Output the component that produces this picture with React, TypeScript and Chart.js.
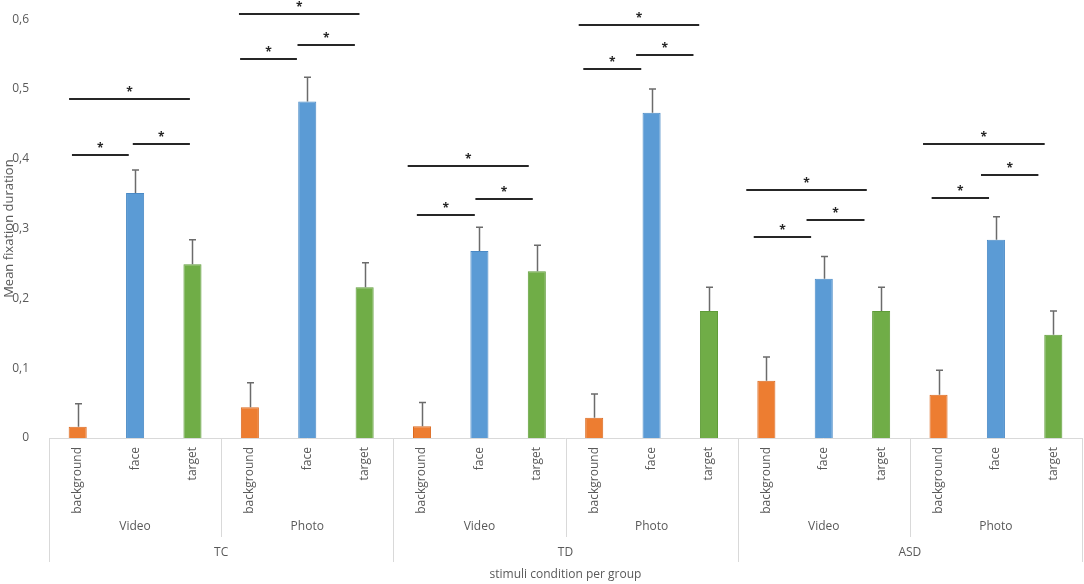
import React, { useEffect, useRef } from "react";
import { Chart, registerables } from "chart.js";

Chart.register(...registerables);

const groups = ["TC", "TD", "ASD"];
const conditions = ["Video", "Photo"];
const stimuli = ["background", "face", "target"];
const yTicks = [0, 0.1, 0.2, 0.3, 0.4, 0.5, 0.6];

const meanValues = [
  0.016, 0.351, 0.249,
  0.044, 0.482, 0.216,
  0.017, 0.268, 0.239,
  0.029, 0.466, 0.182,
  0.082, 0.228, 0.182,
  0.062, 0.284, 0.148,
];
const errorValues = [
  0.033, 0.033, 0.035,
  0.035, 0.035, 0.035,
  0.034, 0.034, 0.037,
  0.034, 0.034, 0.034,
  0.034, 0.032, 0.034,
  0.035, 0.033, 0.034,
];

// significance brackets: category-index start/end and value level
const bracketFrom = [-0.15, -0.1, 0.96, 2.81, 2.83, 3.83, 5.75, 5.91, 6.93, 8.73, 8.81, 9.73, 11.65, 11.78, 12.7, 14.73, 14.88, 15.74];
const bracketTo = [1.955, 0.89, 1.955, 4.91, 3.82, 4.83, 7.86, 6.92, 7.93, 10.83, 9.82, 10.73, 13.75, 12.78, 13.71, 16.85, 15.88, 16.74];
const bracketValues = [0.486, 0.405, 0.421, 0.608, 0.5425, 0.563, 0.39, 0.3195, 0.342, 0.591, 0.528, 0.549, 0.355, 0.288, 0.313, 0.421, 0.344, 0.377];

const fillColors = ["#ED7D31", "#5B9BD5", "#70AD47"];
const edgeColors = ["#DA6A20", "#4A8AC6", "#5F9C39"];

const FONT = '"Open Sans", "Noto Sans", sans-serif';
const TEXT = "#595959";

export default function App() {
  const ref = useRef<HTMLCanvasElement | null>(null);

  useEffect(() => {
    if (!ref.current) return;
    const labels: string[] = [];
    const bg: string[] = [];
    const bd: string[] = [];
    groups.forEach(() =>
      conditions.forEach(() =>
        stimuli.forEach((s, i) => {
          labels.push(s);
          bg.push(fillColors[i]);
          bd.push(edgeColors[i]);
        })
      )
    );

    const overlay = {
      id: "overlay",
      afterDraw(chart: any) {
        const ctx = chart.ctx;
        const xs = chart.scales.x;
        const ys = chart.scales.y;
        const area = chart.chartArea;
        const bottom = Math.round(area.bottom);
        ctx.save();

        // error bars
        ctx.strokeStyle = "#6B6B6B";
        ctx.lineWidth = 1.5;
        meanValues.forEach((m, i) => {
          const cx = Math.round(xs.getPixelForValue(i)) + 0.5;
          const y0 = ys.getPixelForValue(m);
          const y1 = ys.getPixelForValue(m + errorValues[i]);
          ctx.beginPath();
          ctx.moveTo(cx, y0);
          ctx.lineTo(cx, y1);
          ctx.moveTo(cx - 3.5, y1);
          ctx.lineTo(cx + 3.5, y1);
          ctx.stroke();
        });

        // significance brackets
        ctx.strokeStyle = "#262626";
        ctx.lineWidth = 2;
        ctx.fillStyle = "#262626";
        ctx.font = `bold 12px ${FONT}`;
        ctx.textAlign = "center";
        ctx.textBaseline = "alphabetic";
        bracketValues.forEach((v, i) => {
          const xa = xs.getPixelForValue(bracketFrom[i]);
          const xb = xs.getPixelForValue(bracketTo[i]);
          const y = Math.round(ys.getPixelForValue(v));
          ctx.beginPath();
          ctx.moveTo(xa, y);
          ctx.lineTo(xb, y);
          ctx.stroke();
          ctx.fillText("*", (xa + xb) / 2, y - 3);
        });

        // multi-level category axis
        ctx.strokeStyle = "#D9D9D9";
        ctx.lineWidth = 1;
        ctx.beginPath();
        ctx.moveTo(area.left, bottom + 0.5);
        ctx.lineTo(area.right, bottom + 0.5);
        const nb = groups.length * conditions.length;
        for (let k = 0; k <= nb; k++) {
          const px = Math.round(xs.getPixelForValue(k * stimuli.length - 0.5)) + 0.5;
          const len = k % conditions.length === 0 ? 124 : 99;
          ctx.moveTo(px, bottom);
          ctx.lineTo(px, bottom + len);
        }
        ctx.stroke();

        ctx.fillStyle = TEXT;
        ctx.font = `12px ${FONT}`;
        labels.forEach((lab, i) => {
          const cx = xs.getPixelForValue(i);
          ctx.save();
          ctx.translate(cx, bottom + 9);
          ctx.rotate(-Math.PI / 2);
          ctx.textAlign = "right";
          ctx.textBaseline = "middle";
          ctx.fillText(lab, 0, 0);
          ctx.restore();
        });
        ctx.textAlign = "center";
        ctx.textBaseline = "middle";
        let idx = 0;
        groups.forEach((g, gi) => {
          conditions.forEach((c) => {
            const cx = xs.getPixelForValue(idx * stimuli.length + 1);
            ctx.fillText(c, cx, bottom + 89);
            idx++;
          });
          const gx = xs.getPixelForValue(gi * 6 + 2.5);
          ctx.fillText(g, gx, bottom + 115);
        });
        ctx.fillText("stimuli condition per group", (area.left + area.right) / 2, bottom + 137);
        ctx.restore();
      },
    };

    const chart = new Chart(ref.current, {
      type: "bar",
      data: {
        labels,
        datasets: [
          {
            data: meanValues,
            backgroundColor: bg,
            borderColor: bd,
            borderWidth: 1,
            barPercentage: 0.315,
            categoryPercentage: 1,
          },
        ],
      },
      options: {
        responsive: false,
        animation: false,
        devicePixelRatio: 1,
        layout: { padding: { top: 19, right: 2, left: 0, bottom: 0 } },
        plugins: { legend: { display: false }, tooltip: { enabled: false } },
        scales: {
          x: {
            grid: { display: false },
            border: { display: false },
            ticks: { display: false },
            afterFit: (s: any) => {
              s.height = 146;
            },
          },
          y: {
            min: 0,
            max: 0.6,
            afterBuildTicks: (s: any) => {
              s.ticks = yTicks.map((v) => ({ value: v }));
            },
            grid: { display: false },
            border: { display: false },
            ticks: {
              padding: 12,
              color: TEXT,
              font: { family: FONT, size: 12 },
              callback: (v: any) => (v === 0 ? "0" : Number(v).toFixed(1).replace(".", ",")),
            },
            title: {
              display: true,
              text: "Mean fixation duration",
              color: TEXT,
              font: { family: FONT, size: 13 },
              padding: { top: 1, bottom: 0 },
            },
            afterFit: (s: any) => {
              s.width = 49;
            },
          },
        },
      },
      plugins: [overlay],
    });
    return () => chart.destroy();
  }, []);

  return (
    <div style={{ position: "fixed", left: 0, top: 0, width: 1084, height: 584, background: "#fff" }}>
      <canvas ref={ref} width={1084} height={584} style={{ display: "block" }} />
    </div>
  );
}
